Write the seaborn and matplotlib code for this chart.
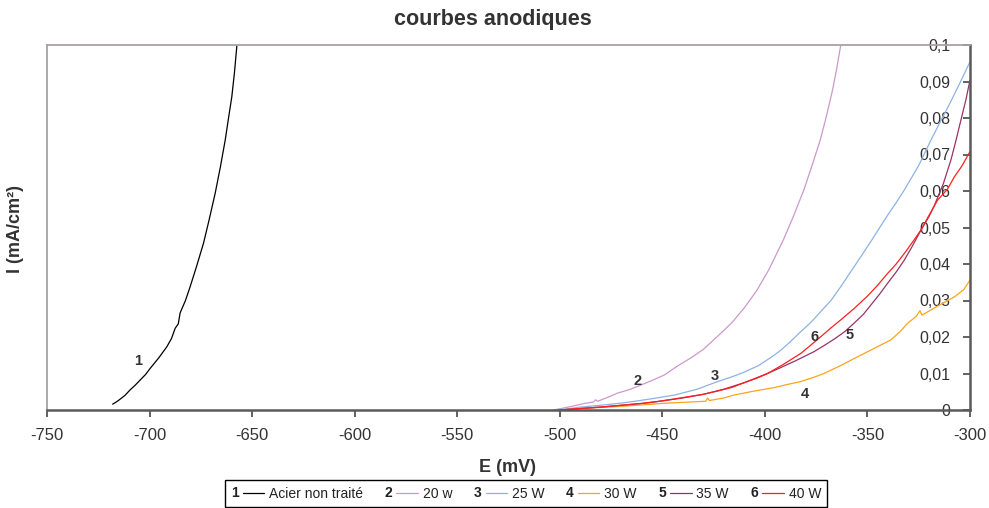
import numpy as np
import pandas as pd
import seaborn as sns
import matplotlib
matplotlib.use("Agg")
import matplotlib.pyplot as plt
from matplotlib.legend_handler import HandlerBase
from matplotlib.lines import Line2D
import matplotlib.text as mtext

# ---------------- data ----------------
E1 = [-718.0, -716.5, -715.2, -712.0, -709.5, -707.0, -704.6, -702.0, -699.7, -695.5,
      -691.6, -689.3, -687.5, -686.0, -685.1, -682.5, -680.2, -677.0, -673.7, -671.0,
      -668.0, -665.5, -663.1, -661.5, -659.9, -658.6, -657.4]
I1 = [0.0016, 0.0021, 0.0026, 0.0040, 0.0055, 0.0068, 0.0082, 0.0097, 0.0114, 0.0143,
      0.0173, 0.0196, 0.0224, 0.0236, 0.0266, 0.0300, 0.0338, 0.0395, 0.0457, 0.0520,
      0.0594, 0.0665, 0.0740, 0.0800, 0.0858, 0.0925, 0.1000]

E2 = [-503.0, -495.0, -488.0, -483.5, -482.6, -481.5, -476.0, -472.0, -466.0, -460.6,
      -455.0, -449.0, -443.0, -436.0, -430.0, -425.0, -420.0, -416.0, -410.0, -404.0,
      -398.0, -391.0, -386.0, -381.0, -377.0, -373.0, -370.0, -367.0, -365.0, -363.0]
I2 = [0.0000, 0.0009, 0.0018, 0.0022, 0.0028, 0.0024, 0.0036, 0.0046, 0.0056, 0.0068,
      0.0081, 0.0096, 0.0119, 0.0143, 0.0166, 0.0192, 0.0218, 0.0240, 0.0280, 0.0327,
      0.0385, 0.0466, 0.0532, 0.0603, 0.0670, 0.0740, 0.0805, 0.0877, 0.0935, 0.1000]

E3 = [-503.0, -495.0, -490.0, -480.0, -470.0, -462.0, -455.0, -444.0, -433.0, -423.0,
      -416.0, -410.0, -403.0, -395.5, -392.0, -387.8, -383.0, -377.6, -372.7, -367.8,
      -363.0, -358.0, -353.0, -348.3, -344.0, -340.0, -336.0, -332.0, -325.0, -319.0,
      -314.0, -310.0, -305.0, -300.0]
I3 = [0.0000, 0.0004, 0.0008, 0.0013, 0.0019, 0.0025, 0.0031, 0.0041, 0.0057, 0.0078,
      0.0091, 0.0104, 0.0122, 0.0150, 0.0165, 0.0186, 0.0212, 0.0240, 0.0270, 0.0300,
      0.0338, 0.0380, 0.0422, 0.0462, 0.0500, 0.0535, 0.0568, 0.0603, 0.0670, 0.0740,
      0.0795, 0.0838, 0.0895, 0.0954]

E4 = [-500.0, -490.0, -480.0, -470.0, -460.0, -450.0, -440.0, -428.8, -428.0, -427.0,
      -420.0, -415.0, -407.0, -401.0, -395.0, -389.0, -382.5, -377.0, -371.2, -363.0,
      -354.7, -347.0, -338.6, -334.0, -330.4, -326.3, -324.4, -323.4, -316.0, -307.6,
      -303.0, -300.0]
I4 = [0.0000, 0.0004, 0.0007, 0.0010, 0.0014, 0.0018, 0.0021, 0.0024, 0.0033, 0.0026,
      0.0033, 0.0041, 0.0050, 0.0056, 0.0062, 0.0070, 0.0078, 0.0088, 0.0100, 0.0122,
      0.0146, 0.0168, 0.0192, 0.0215, 0.0238, 0.0256, 0.0272, 0.0260, 0.0284, 0.0310,
      0.0330, 0.0356]

E5 = [-500.0, -490.0, -480.0, -470.0, -460.0, -450.0, -440.0, -430.0, -420.0, -410.0,
      -398.7, -392.0, -385.0, -376.0, -371.0, -366.0, -361.0, -356.5, -352.0, -348.0,
      -344.0, -340.2, -336.0, -332.0, -328.0, -323.9, -320.0, -317.4, -313.0, -309.3,
      -307.0, -304.4, -302.0, -300.0]
I5 = [0.0000, 0.0004, 0.0008, 0.0013, 0.0018, 0.0025, 0.0033, 0.0043, 0.0057, 0.0075,
      0.0100, 0.0117, 0.0135, 0.0160, 0.0177, 0.0195, 0.0215, 0.0238, 0.0262, 0.0290,
      0.0318, 0.0347, 0.0378, 0.0411, 0.0450, 0.0493, 0.0530, 0.0560, 0.0620, 0.0685,
      0.0735, 0.0795, 0.0850, 0.0904]

E6 = [-500.0, -490.0, -480.0, -470.0, -460.0, -452.4, -440.0, -430.0, -423.0, -416.0,
      -410.0, -404.0, -398.7, -391.0, -382.5, -378.0, -372.7, -368.0, -363.0, -356.5,
      -350.0, -345.0, -340.2, -336.0, -332.0, -328.0, -323.9, -320.0, -315.8, -311.0,
      -307.6, -304.0, -300.0]
I6 = [0.0000, 0.0004, 0.0008, 0.0013, 0.0018, 0.0023, 0.0034, 0.0043, 0.0052, 0.0062,
      0.0075, 0.0087, 0.0100, 0.0125, 0.0155, 0.0176, 0.0201, 0.0224, 0.0247, 0.0278,
      0.0312, 0.0342, 0.0374, 0.0400, 0.0429, 0.0460, 0.0493, 0.0533, 0.0575, 0.0605,
      0.0639, 0.0668, 0.0708]

series_E = [E1, E2, E3, E4, E5, E6]
series_I = [I1, I2, I3, I4, I5, I6]
series_nums = ["1", "2", "3", "4", "5", "6"]
series_names = ["Acier non traité", "20 w", "25 W", "30 W", "35 W", "40 W"]
series_colors = ["#000000", "#cc99cc", "#8db3e2", "#ffa31a", "#993366", "#ff1f1f"]

curve_label_E = [-705.6, -462.0, -424.5, -380.6, -358.6, -375.7]
curve_label_I = [0.0133, 0.0080, 0.0092, 0.0044, 0.0205, 0.0200]

xticks = [-750, -700, -650, -600, -550, -500, -450, -400, -350, -300]
xtick_labels = ["-750", "-700", "-650", "-600", "-550", "-500", "-450", "-400", "-350", "-300"]
yticks = [0, 0.01, 0.02, 0.03, 0.04, 0.05, 0.06, 0.07, 0.08, 0.09, 0.1]
ytick_labels = ["0", "0,01", "0,02", "0,03", "0,04", "0,05", "0,06", "0,07", "0,08", "0,09", "0,1"]

title = "courbes anodiques"
xlabel = "E (mV)"
ylabel = "I (mA/cm²)"

# ---------------- style ----------------
sns.set_theme(style="white")
plt.rcParams["font.family"] = ["Liberation Sans", "DejaVu Sans"]
TXT = "#333333"

W, H = 989, 508
fig = plt.figure(figsize=(W / 100, H / 100), dpi=100)
ax = fig.add_axes([47 / W, 1 - 410 / H, (970 - 47) / W, (410 - 45) / H])

handles = []
for E, I, c in zip(series_E, series_I, series_colors):
    df = pd.DataFrame({"E": E, "I": I})
    sns.lineplot(data=df, x="E", y="I", sort=False, estimator=None, ax=ax,
                 color=c, lw=0.9, legend=False)
    handles.append(ax.lines[-1])

for n, xe, yi in zip(series_nums, curve_label_E, curve_label_I):
    ax.text(xe, yi, n, fontsize=10.5, fontweight="bold", color=TXT,
            ha="center", va="center")

ax.set_xlim(-750, -300)
ax.set_ylim(0, 0.1)
ax.set_xticks(xticks)
ax.set_xticklabels(xtick_labels)
ax.set_yticks(yticks)
ax.set_yticklabels(ytick_labels)
ax.set_xlabel("")
ax.set_ylabel("")

ax.tick_params(axis="x", bottom=True, top=False, direction="out", length=5,
               width=1.3, color="#555555", labelsize=12, labelcolor=TXT, pad=8)
ax.tick_params(axis="y", left=False, right=True, labelleft=False, labelright=True,
               direction="in", length=5, width=1.3, color="#555555",
               labelsize=11.5, labelcolor=TXT, pad=-14)
for lab in ax.get_yticklabels():
    lab.set_horizontalalignment("right")

for side in ["top", "left"]:
    ax.spines[side].set_color("#a8a3a3")
    ax.spines[side].set_linewidth(1.3)
for side in ["bottom", "right"]:
    ax.spines[side].set_color("#5a5a5a")
    ax.spines[side].set_linewidth(1.8)

fig.text(0.498, 1 - 19 / H, title, fontsize=15.5, fontweight="bold", color=TXT,
         ha="center", va="center")
fig.text(508 / W, 1 - 467 / H, xlabel, fontsize=13, fontweight="bold", color=TXT,
         ha="center", va="center")
fig.text(16 / W, 1 - 229 / H, ylabel, fontsize=13, fontweight="bold", color=TXT,
         ha="center", va="center", rotation=90)


class NumLineHandler(HandlerBase):
    def __init__(self, num):
        super().__init__()
        self.num = num

    def create_artists(self, legend, orig_handle, xdescent, ydescent, width,
                       height, fontsize, trans):
        y = height / 2 - ydescent
        t = mtext.Text(-xdescent, y, self.num, fontsize=fontsize, fontweight="bold",
                       color="#222222", ha="left", va="center", transform=trans)
        x0 = -xdescent + 0.85 * fontsize
        ln = Line2D([x0, -xdescent + width], [y, y], color=orig_handle.get_color(),
                    lw=orig_handle.get_linewidth(), transform=trans)
        return [t, ln]


hmap = {h: NumLineHandler(n) for h, n in zip(handles, series_nums)}
leg = fig.legend(handles, series_names, handler_map=hmap, loc="center",
                 bbox_to_anchor=(526 / W, 1 - 493.5 / H), ncol=6, fontsize=10,
                 handlelength=2.4, handletextpad=0.35, columnspacing=1.55,
                 borderpad=0.45, frameon=True, fancybox=False, framealpha=1)
leg.get_frame().set_edgecolor("#000000")
leg.get_frame().set_linewidth(1.0)
for t in leg.get_texts():
    t.set_color("#222222")

fig.savefig("out.png", dpi=100)
